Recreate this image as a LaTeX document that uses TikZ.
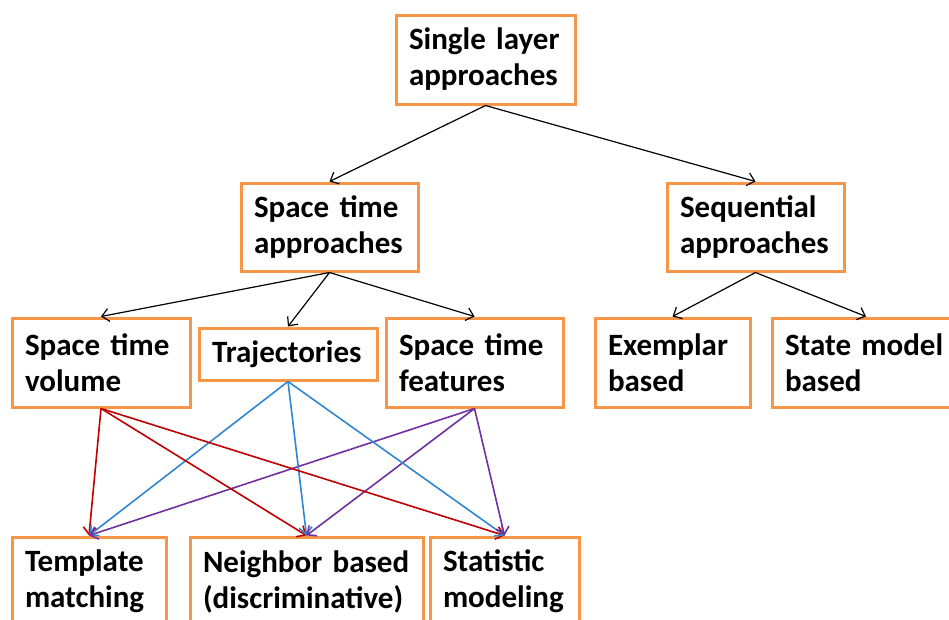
\documentclass[tikz,border=0pt]{standalone}
\usepackage{fontspec}
\setmainfont{Carlito}
\usepackage{tikz}
\usepackage{xcolor}
\usetikzlibrary{arrows.meta}
\definecolor{boxorange}{HTML}{F79646}
\definecolor{linkred}{HTML}{C00000}
\definecolor{linkblue}{HTML}{2F87D1}
\definecolor{linkpurple}{HTML}{7030A0}

\begin{document}
\begin{tikzpicture}[x=1pt, y=-1pt,
                box/.style={draw=boxorange, line width=3pt, fill=white, align=left,
                    inner xsep=13pt, inner ysep=0pt, minimum height=89pt,
                    font=\bfseries\fontsize{31}{36}\selectfont},
                link/.style={-{Straight Barb[length=7pt,width=13pt]}, line width=1.2pt},
                cross/.style={link, line width=1.6pt}]
                \useasboundingbox (0,0) rectangle (949,619);
                \clip (0,0) rectangle (949,619);
                % boxes
                \node[box, text width=153pt] (single) at (485.5,59.5) {Single layer\\approaches};
                \node[box, text width=151pt, minimum height=88pt] (spacetime) at (329.5,227) {Space time\\approaches};
                \node[box, text width=151pt, minimum height=88pt] (sequential) at (755.5,227) {Sequential\\approaches};
                \node[box, text width=152pt] (volume) at (101,362.5) {Space time\\volume};
                \node[box, text width=152pt, minimum height=52pt] (traject) at (288,354) {Trajectories};
                \node[box, text width=151pt] (features) at (474.5,362.5) {Space time\\features};
                \node[box, text width=129pt] (exemplar) at (672.5,362.5) {Exemplar\\based};
                \node[box, text width=162pt] (statemodel) at (866,362.5) {State model\\based};
                \node[box, text width=128pt] (template) at (89,581.5) {Template\\matching};
                \node[box, text width=207pt] (neighbor) at (306.5,581.5) {Neighbor based\\(discriminative)};
                \node[box, text width=123pt] (statistic) at (504.5,581.5) {Statistic\\modeling};
                % hierarchy
                \draw[link] (single.south) -- (spacetime.north);
                \draw[link] (single.south) -- (sequential.north);
                \draw[link] (spacetime.south) -- (volume.north);
                \draw[link] (spacetime.south) -- (traject.north);
                \draw[link] (spacetime.south) -- (features.north);
                \draw[link] (sequential.south) -- (exemplar.north);
                \draw[link] (sequential.south) -- (statemodel.north);
                % crossing links
                \foreach \to in {template, neighbor, statistic} {
                    \draw[cross, linkred] (volume.south) -- (\to.north);
                    \draw[cross, linkblue] (traject.south) -- (\to.north);
                    \draw[cross, linkpurple] (features.south) -- (\to.north);
                }
            \end{tikzpicture}
\end{document}
